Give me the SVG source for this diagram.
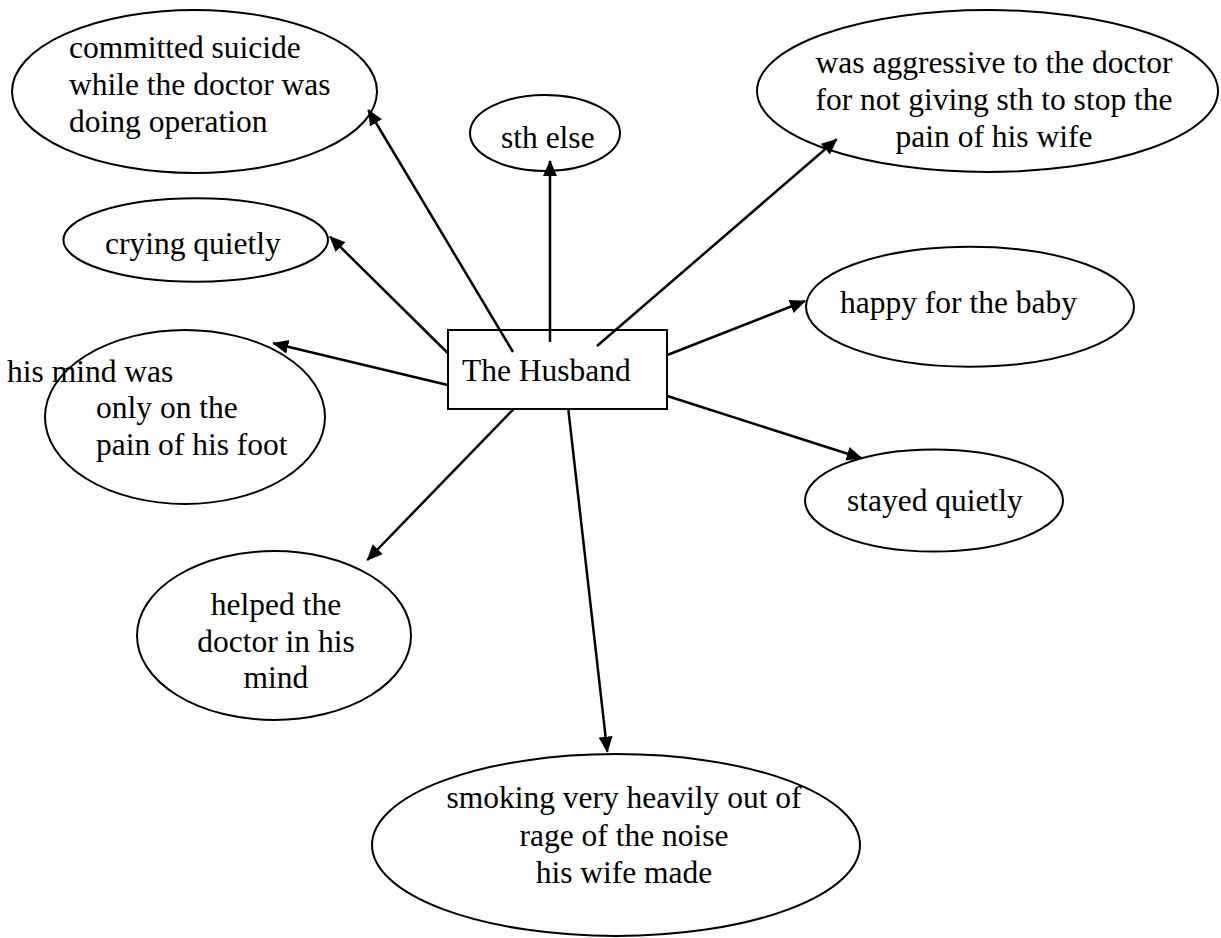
<svg xmlns="http://www.w3.org/2000/svg" width="1221" height="938" viewBox="0 0 1221 938">
<style>
.n{fill:#fff;stroke:#000;stroke-width:2}
.t{font-family:"Liberation Serif","Times New Roman",serif;font-size:31.5px;fill:#000}
.c{text-anchor:middle}
.e{stroke:#000;stroke-width:2.5;fill:none;marker-end:url(#ah)}
</style>
<defs>
<marker id="ah" markerUnits="userSpaceOnUse" markerWidth="17" markerHeight="15" refX="15" refY="7" orient="auto">
<path d="M0,0 L16,7 L0,14 z" fill="#000"/>
</marker>
</defs>
<rect width="1221" height="938" fill="#fff"/>
<g id="n-suicide">
<ellipse class="n" cx="194.5" cy="91.5" rx="182.5" ry="81.5"/>
<text class="t" x="69" y="58">committed suicide</text>
<text class="t" x="69" y="95">while the doctor was</text>
<text class="t" x="69" y="132">doing operation</text>
</g>
<g id="n-sthelse">
<ellipse class="n" cx="545" cy="133" rx="75" ry="38"/>
<text class="t" x="501" y="148">sth else</text>
</g>
<g id="n-aggressive">
<ellipse class="n" cx="987.5" cy="91" rx="230.5" ry="81"/>
<text class="t c" x="994" y="73">was aggressive to the doctor</text>
<text class="t c" x="994" y="110">for not giving sth to stop the</text>
<text class="t c" x="994" y="147">pain of his wife</text>
</g>
<g id="n-crying">
<ellipse class="n" cx="195.7" cy="240" rx="132.3" ry="41.7"/>
<text class="t" x="105" y="254">crying quietly</text>
</g>
<g id="n-mind">
<ellipse class="n" cx="185" cy="417" rx="140" ry="87"/>
<text class="t" x="7" y="382">his mind was</text>
<text class="t" x="96" y="418">only on the</text>
<text class="t" x="96" y="455">pain of his foot</text>
</g>
<g id="n-helped">
<ellipse class="n" cx="274" cy="635.5" rx="137" ry="84.5"/>
<text class="t c" x="276" y="615">helped the</text>
<text class="t c" x="276" y="652">doctor in his</text>
<text class="t c" x="276" y="688">mind</text>
</g>
<g id="n-smoking">
<ellipse class="n" cx="616" cy="845" rx="244" ry="91"/>
<text class="t c" x="624" y="808">smoking very heavily out of</text>
<text class="t c" x="624" y="846">rage of the noise</text>
<text class="t c" x="624" y="883">his wife made</text>
</g>
<g id="n-happy">
<ellipse class="n" cx="970" cy="306.7" rx="164" ry="60"/>
<text class="t" x="840" y="313">happy for the baby</text>
</g>
<g id="n-stayed">
<ellipse class="n" cx="934" cy="500.5" rx="129" ry="51"/>
<text class="t" x="847" y="511">stayed quietly</text>
</g>
<g id="n-husband">
<rect class="n" x="448" y="330" width="219" height="79"/>
<text class="t" x="462" y="381">The Husband</text>
</g>
<g id="connectors">
<line class="e" x1="513" y1="352" x2="368.3" y2="110"/>
<line class="e" x1="550" y1="342" x2="550" y2="161"/>
<line class="e" x1="597" y1="346" x2="836.7" y2="139.3"/>
<line class="e" x1="447.7" y1="353" x2="330" y2="236.7"/>
<line class="e" x1="447.7" y1="385" x2="273.3" y2="343.3"/>
<line class="e" x1="513.3" y1="409.3" x2="367.3" y2="560"/>
<line class="e" x1="568.3" y1="409.3" x2="607.3" y2="751.7"/>
<line class="e" x1="667.3" y1="355" x2="805" y2="301"/>
<line class="e" x1="667.3" y1="396" x2="861.7" y2="458.3"/>
</g>
</svg>
